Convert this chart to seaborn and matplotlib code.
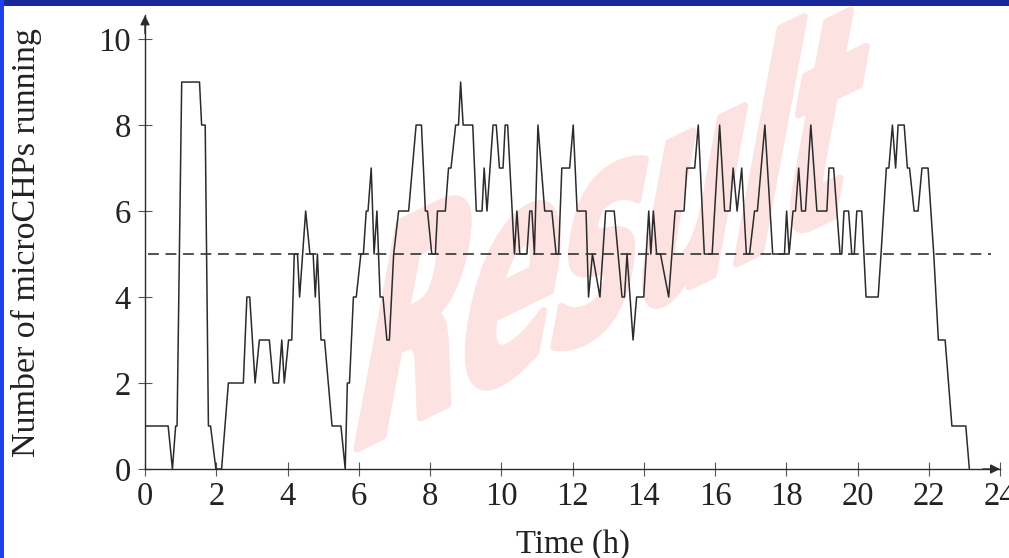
import numpy as np
import pandas as pd
import matplotlib
matplotlib.use("Agg")
import matplotlib.pyplot as plt
import seaborn as sns
from matplotlib.textpath import TextPath
from matplotlib.patches import PathPatch, Rectangle
from matplotlib.font_manager import FontProperties
from matplotlib.transforms import Affine2D, IdentityTransform

# ---------------- data ----------------
time_h = [
    0.0, 0.65, 0.77, 0.86, 0.9, 1.03, 1.53, 1.59, 1.69, 1.78, 1.84, 1.99, 2.15,
    2.34, 2.76, 2.86, 2.94, 3.09, 3.21, 3.49, 3.6, 3.75, 3.84, 3.91, 4.03, 4.12,
    4.19, 4.28, 4.34, 4.51, 4.63, 4.72, 4.78, 4.84, 4.94, 5.04, 5.25, 5.5, 5.62,
    5.68, 5.74, 5.85, 5.93, 6.06, 6.13, 6.21, 6.26, 6.35, 6.43, 6.51, 6.6, 6.68,
    6.79, 6.86, 6.98, 7.12, 7.4, 7.61, 7.76, 7.87, 7.93, 8.05, 8.15, 8.21, 8.43,
    8.52, 8.59, 8.72, 8.8, 8.86, 8.93, 9.2, 9.3, 9.46, 9.52, 9.6, 9.77, 9.86,
    9.95, 10.05, 10.11, 10.18, 10.37, 10.44, 10.52, 10.72, 10.8, 10.86, 10.93,
    11.03, 11.22, 11.42, 11.54, 11.61, 11.7, 11.92, 12.02, 12.13, 12.38, 12.45,
    12.56, 12.77, 12.93, 13.17, 13.39, 13.46, 13.53, 13.7, 13.8, 14.0, 14.14,
    14.2, 14.27, 14.36, 14.47, 14.7, 14.79, 14.88, 15.13, 15.21, 15.43, 15.53,
    15.7, 15.92, 16.13, 16.27, 16.42, 16.51, 16.62, 16.75, 16.88, 16.97, 17.11,
    17.19, 17.4, 17.62, 17.95, 18.01, 18.08, 18.19, 18.26, 18.35, 18.43, 18.54,
    18.69, 18.86, 19.14, 19.2, 19.33, 19.51, 19.56, 19.62, 19.75, 19.84, 19.91,
    19.98, 20.12, 20.24, 20.58, 20.66, 20.81, 20.88, 20.98, 21.07, 21.14, 21.31,
    21.4, 21.46, 21.59, 21.7, 21.81, 21.98, 22.14, 22.27, 22.46, 22.65, 23.04,
    23.14,
]
n_running = [
    1, 1, 0, 1, 1, 9, 9, 8, 8, 1, 1, 0, 0,
    2, 2, 4, 4, 2, 3, 3, 2, 2, 3, 2, 3, 3,
    5, 5, 4, 6, 5, 5, 4, 5, 3, 3, 1, 1, 0,
    2, 2, 4, 4, 5, 5, 6, 6, 7, 5, 6, 4, 4,
    3, 3, 5, 6, 6, 8, 8, 6, 6, 5, 5, 6, 6,
    7, 7, 8, 8, 9, 8, 8, 6, 6, 7, 6, 8, 8,
    7, 7, 8, 8, 5, 6, 5, 5, 6, 6, 5,
    8, 6, 6, 5, 5, 7, 7, 8, 6, 6, 4,
    5, 4, 6, 6, 4, 4, 5, 3, 4, 4, 6,
    5, 6, 5, 5, 4, 5, 6, 6, 7, 7, 8,
    5, 5, 8, 6, 6, 7, 6, 7, 5, 5, 6,
    6, 8, 5, 5, 6, 5, 6, 6, 7, 6, 6,
    8, 6, 6, 7, 7, 5, 5, 6, 6, 5, 5,
    6, 6, 4, 4, 5, 7, 7, 8, 7, 8, 8,
    7, 7, 6, 6, 7, 7, 5, 3, 3, 1, 1,
    0,
]
threshold = 5
x_ticks = [0, 2, 4, 6, 8, 10, 12, 14, 16, 18, 20, 22, 24]
y_ticks = [0, 2, 4, 6, 8, 10]
x_label = "Time (h)"
y_label = "Number of microCHPs running"
watermark = "Result"

# ---------------- style ----------------
sns.set_style("ticks")
plt.rcParams["font.family"] = ["Liberation Serif", "DejaVu Serif"]

W, H = 1009, 558
fig = plt.figure(figsize=(W / 100, H / 100), dpi=100)
fig.patch.set_facecolor("white")
ax = fig.add_axes([145 / W, 89 / H, 855 / W, 453.6 / H])
ax.set_facecolor("white")

df = pd.DataFrame({"t": time_h, "n": n_running})
sns.lineplot(data=df, x="t", y="n", ax=ax, color="#2b2b2b", linewidth=1.1,
             estimator=None, sort=False, zorder=3)
ax.axhline(threshold, xmin=0.004, xmax=23.75 / 24, color="#333333",
           linewidth=1.2, linestyle=(0, (6.5, 4)), zorder=3)

ax.set_xlim(0, 24)
ax.set_ylim(0, 10.55)
ax.set_xticks(x_ticks)
ax.set_yticks(y_ticks)
ax.set_xticklabels([str(v) for v in x_ticks])
ax.set_yticklabels([str(v) for v in y_ticks])

for s in ["top", "right"]:
    ax.spines[s].set_visible(False)
for s in ["left", "bottom"]:
    ax.spines[s].set_color("#2b2b2b")
    ax.spines[s].set_linewidth(1.0)

ax.tick_params(axis="both", direction="inout", length=10, width=0.8,
               color="#555555", labelcolor="#222222", labelsize=23.5)
ax.tick_params(axis="y", pad=5)
ax.tick_params(axis="x", pad=4)

ax.set_xlabel(x_label, fontsize=23.5, color="#222222")
ax.set_ylabel(y_label, fontsize=24.5, color="#222222")
ax.xaxis.set_label_coords(0.5, -0.132)
ax.yaxis.set_label_coords(-0.12, 0.5)

# axis arrows
ax.annotate("", xy=(1.0, 0), xytext=(0.98, 0), xycoords="axes fraction",
            arrowprops=dict(arrowstyle="-|>", color="#2b2b2b", lw=1.0,
                            mutation_scale=14, shrinkA=0, shrinkB=0))
ax.annotate("", xy=(0, 1.0), xytext=(0, 0.96), xycoords="axes fraction",
            arrowprops=dict(arrowstyle="-|>", color="#2b2b2b", lw=1.0,
                            mutation_scale=14, shrinkA=0, shrinkB=0))

# ---------------- watermark (behind the curve) ----------------
fp = FontProperties(family="DejaVu Sans", weight="bold")
tp = TextPath((0, 0), watermark, size=1, prop=fp)
ext = tp.get_extents()
w = ext.x1 - ext.x0
cap = 0.729
a, c = 478 / w, 233 / w
b, d = 42 / cap, 226 / cap
X0 = 357 - a * ext.x0
Y0 = H - 455
tr = Affine2D(np.array([[a, b, X0], [c, d, Y0], [0, 0, 1]]))
wm = PathPatch(tr.transform_path(tp), facecolor="#fde2e2", edgecolor="#fde2e2",
               linewidth=5, joinstyle="round", transform=IdentityTransform(),
               zorder=0.5, clip_on=False)
ax.add_artist(wm)

# ---------------- blue frame ----------------
fig.add_artist(Rectangle((0, 1 - 6 / H), 1, 6 / H, transform=fig.transFigure,
                         facecolor="#18279a", edgecolor="none", zorder=10))
fig.add_artist(Rectangle((0, 0), 4 / W, 1, transform=fig.transFigure,
                         facecolor="#2040f0", edgecolor="none", zorder=10))

fig.savefig("out.png", dpi=100)
